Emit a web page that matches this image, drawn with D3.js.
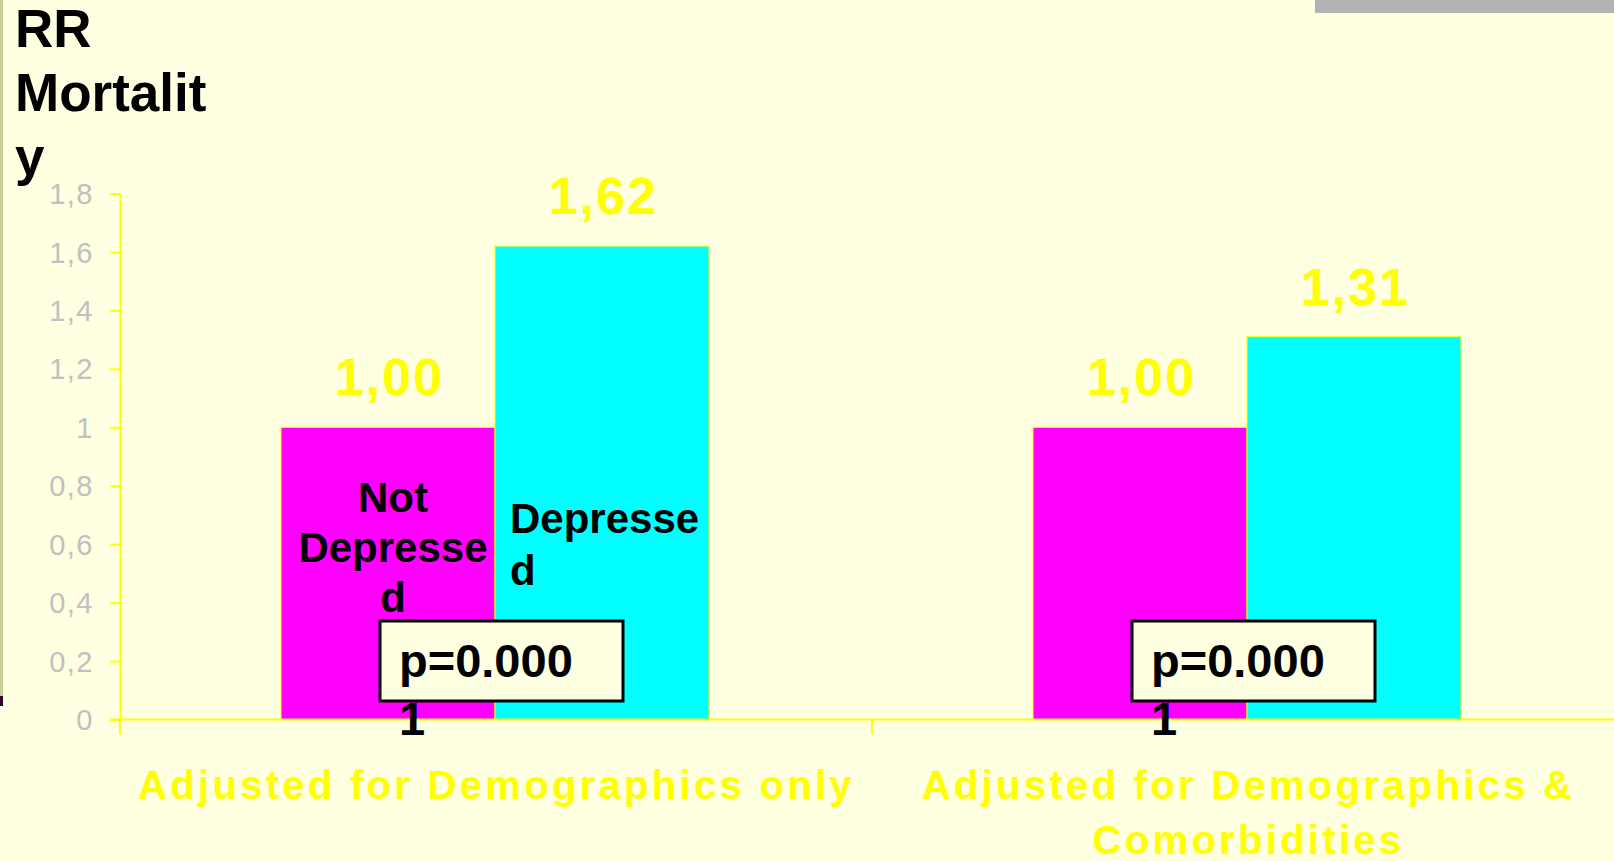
<!DOCTYPE html>
<html>
<head>
<meta charset="utf-8">
<script src="https://cdn.jsdelivr.net/npm/d3@7"></script>
<style>
  html, body { margin: 0; padding: 0; background: #ffffe1; }
  svg { display: block; }
  text { font-family: "Liberation Sans", Arial, Helvetica, sans-serif; }
</style>
</head>
<body>
<svg id="chart" width="1614" height="861"></svg>
<script>
// ---- data ----
const categories = ["Adjusted for Demographics only", "Adjusted for Demographics & Comorbidities"];
const categoryLines = [["Adjusted for Demographics only"], ["Adjusted for Demographics &", "Comorbidities"]];
const series = ["Not Depressed", "Depressed"];
const notDepressed = [1.00, 1.00];
const depressed = [1.62, 1.31];
const yTicks = [0, 0.2, 0.4, 0.6, 0.8, 1, 1.2, 1.4, 1.6, 1.8];
const titleLines = ["RR", "Mortalit", "y"];
const seriesLabelLines = [["Not", "Depresse", "d"], ["Depresse", "d"]];
const pValueLines = [["p=0.000", "1"], ["p=0.000", "1"]];

// ---- layout ----
const W = 1614, H = 861;
const bg = "#ffffe1";
const axisColor = "#ffff00";
const seriesColors = ["#ff00ff", "#00ffff"];

const svg = d3.select("#chart");
svg.append("rect").attr("width", W).attr("height", H).attr("fill", bg);

// slide frame details
svg.append("rect").attr("x", 0).attr("y", 0).attr("width", 3).attr("height", 696).attr("fill", "#cccc99");
svg.append("rect").attr("x", 0).attr("y", 696).attr("width", 3).attr("height", 10).attr("fill", "#330033");
svg.append("rect").attr("x", 1315).attr("y", 0).attr("width", W - 1315).attr("height", 13).attr("fill", "#b2b2b2");

// ---- scales ----
const y = d3.scaleLinear().domain([0, 1.8]).range([719.5, 193.5]);
const x = d3.scaleBand().domain(categories).range([119, 1623]).paddingInner(0).paddingOuter(0);
const xs = d3.scaleBand().domain(series).range([0, x.bandwidth()]).paddingInner(0).paddingOuter(0.757);

const locale = d3.formatLocale({ decimal: ",", thousands: ".", grouping: [3], currency: ["", ""] });
const tickFmt = locale.format(".1~f");
const valueFmt = locale.format(".2f");

const rows = categories.map((c, i) => ({ cat: c, i, values: [notDepressed[i], depressed[i]] }));

// ---- y axis ----
const yAxis = svg.append("g").attr("transform", "translate(120,0)")
  .call(d3.axisLeft(y).tickValues(yTicks).tickFormat(tickFmt).tickSize(10).tickSizeOuter(0).tickPadding(16));
yAxis.select(".domain").attr("stroke", axisColor).attr("stroke-width", 2);
yAxis.selectAll(".tick line").attr("stroke", axisColor).attr("stroke-width", 2);
yAxis.selectAll(".tick text")
  .attr("fill", "#c0c0c0")
  .style("font-size", "29px")
  .style("letter-spacing", "1.5px")
  .attr("dy", "0.35em");

// ---- bars ----
const groups = svg.append("g").selectAll("g.cat").data(rows).join("g")
  .attr("class", "cat")
  .attr("transform", d => `translate(${x(d.cat)},0)`);

groups.selectAll("rect.bar")
  .data(d => d.values.map((v, k) => ({ v, k, s: series[k] })))
  .join("rect")
  .attr("class", "bar")
  .attr("x", d => xs(d.s))
  .attr("width", xs.bandwidth())
  .attr("y", d => y(d.v))
  .attr("height", d => y(0) - y(d.v))
  .attr("fill", d => seriesColors[d.k])
  .attr("stroke", axisColor)
  .attr("stroke-width", 1);

// value labels
groups.selectAll("text.val")
  .data(d => d.values.map((v, k) => ({ v, k, s: series[k] })))
  .join("text")
  .attr("class", "val")
  .attr("x", d => xs(d.s) + xs.bandwidth() / 2 + 1)
  .attr("y", d => y(d.v) - 32)
  .attr("text-anchor", "middle")
  .attr("fill", "#ffff00")
  .style("font-size", "52px")
  .style("font-weight", "bold")
  .style("letter-spacing", "2px")
  .text(d => valueFmt(d.v));

// ---- x axis ----
svg.append("line")
  .attr("x1", 110).attr("x2", W).attr("y1", y(0)).attr("y2", y(0))
  .attr("stroke", axisColor).attr("stroke-width", 2);
svg.append("g").selectAll("line").data(categories).join("line")
  .attr("x1", d => x(d) + 1).attr("x2", d => x(d) + 1)
  .attr("y1", y(0)).attr("y2", y(0) + 15)
  .attr("stroke", axisColor).attr("stroke-width", 2);

// category labels
const catLabels = svg.append("g").selectAll("text").data(rows).join("text")
  .attr("text-anchor", "middle")
  .attr("fill", "#ffff00")
  .style("font-size", "40px")
  .style("font-weight", "bold")
  .style("letter-spacing", "3.3px");
catLabels.selectAll("tspan").data(d => categoryLines[d.i].map(t => ({ t, cx: x(d.cat) + x.bandwidth() / 2 })))
  .join("tspan")
  .attr("x", d => d.cx + 1.5)
  .attr("y", (d, j) => 799 + j * 55)
  .text(d => d.t);

// ---- series labels inside the first group's bars ----
const g0 = x(categories[0]);
const nd = svg.append("text")
  .attr("text-anchor", "middle")
  .style("font-size", "42px").style("font-weight", "bold").attr("fill", "#000");
nd.selectAll("tspan").data(seriesLabelLines[0]).join("tspan")
  .attr("x", g0 + xs(series[0]) + xs.bandwidth() / 2 + 5)
  .attr("y", (d, j) => 512 + j * 50)
  .text(d => d);
const dp = svg.append("text")
  .attr("text-anchor", "start")
  .style("font-size", "42px").style("font-weight", "bold").attr("fill", "#000");
dp.selectAll("tspan").data(seriesLabelLines[1]).join("tspan")
  .attr("x", g0 + xs(series[1]) + 15)
  .attr("y", (d, j) => 533 + j * 52)
  .text(d => d);

// ---- p-value boxes ----
const pGroups = svg.append("g").selectAll("g").data(rows).join("g")
  .attr("transform", d => `translate(${x(d.cat) + x.bandwidth() / 2 - 115},0)`);
pGroups.append("rect")
  .attr("x", 0).attr("y", 621).attr("width", 243).attr("height", 80)
  .attr("fill", bg).attr("stroke", "#000").attr("stroke-width", 3);
pGroups.append("text")
  .style("font-size", "47px").style("font-weight", "bold").attr("fill", "#000")
  .selectAll("tspan").data(d => pValueLines[d.i]).join("tspan")
  .attr("x", 19)
  .attr("y", (d, j) => 677 + j * 58)
  .text(d => d);

// ---- y title ----
svg.append("text")
  .style("font-size", "53px").style("font-weight", "bold").attr("fill", "#000")
  .selectAll("tspan").data(titleLines).join("tspan")
  .attr("x", 15)
  .attr("y", (d, j) => 47 + j * 64)
  .text(d => d);
</script>
</body>
</html>
